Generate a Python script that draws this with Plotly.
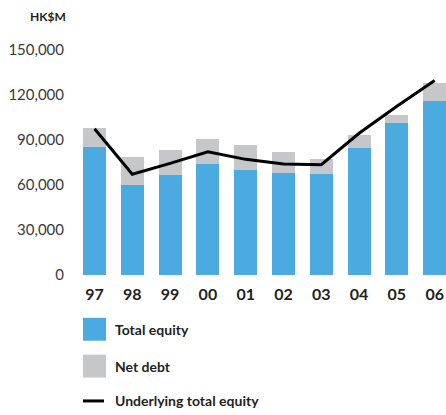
import plotly.graph_objects as go

years = ['97', '98', '99', '00', '01', '02', '03', '04', '05', '06']
total_equity = [85500, 60000, 66700, 74000, 70000, 68000, 67400, 84600, 101400, 115800]
net_debt = [12600, 18600, 16600, 16600, 16600, 14000, 10000, 8600, 5100, 11900]
underlying_equity = [97500, 67200, 74400, 82200, 77100, 74000, 73500, 94500, 112500, 129600]
y_ticks = [0, 30000, 60000, 90000, 120000, 150000]

BLUE = '#4baae0'
GREY = '#c6c7c9'
FONT = 'Lato'

fig = go.Figure()

fig.add_trace(go.Bar(x=list(range(len(years))), y=total_equity, name='Total equity',
                     marker_color=BLUE, marker_line_width=0))
fig.add_trace(go.Bar(x=list(range(len(years))), y=net_debt, name='Net debt',
                     marker_color=GREY, marker_line_width=0))
fig.add_trace(go.Scatter(x=list(range(len(years))), y=underlying_equity, name='Underlying total equity',
                         mode='lines', line=dict(color='black', width=3)))

fig.update_layout(
    width=446, height=415,
    margin=dict(l=76, r=0, t=49.5, b=139.5),
    barmode='stack',
    bargap=0.39,
    showlegend=False,
    plot_bgcolor='white',
    paper_bgcolor='white',
    font=dict(family=FONT),
)

fig.update_xaxes(
    range=[-0.49, 9.30],
    tickmode='array', tickvals=list(range(len(years))), ticktext=years,
    tickfont=dict(family=FONT, size=16, color='#231f20', weight='bold'),
    ticks='outside', ticklen=5, tickcolor='rgba(0,0,0,0)',
    showgrid=False, zeroline=False, showline=False,
)
fig.update_yaxes(
    range=[0, 150000],
    tickmode='array', tickvals=y_ticks,
    ticktext=[f'{v:,}' for v in y_ticks],
    tickfont=dict(family=FONT, size=15, color='#3a3a3a'),
    ticks='outside', ticklen=8, tickcolor='rgba(0,0,0,0)',
    showgrid=False, zeroline=False, showline=False,
)

fig.add_annotation(text='HK$M', xref='paper', yref='paper', x=-8 / 370, y=1 + 33.5 / 226,
                   xanchor='right', yanchor='middle', showarrow=False,
                   font=dict(family=FONT, size=12, color='#231f20', weight='bold'))

# legend drawn by hand so the swatches match the large squares
legend_items = [('Total equity', BLUE, 'box'), ('Net debt', GREY, 'box'),
                ('Underlying total equity', 'black', 'line')]
row_y = [330, 367, 402]
for (label, color, kind), yc in zip(legend_items, row_y):
    if kind == 'box':
        fig.add_shape(type='rect', xref='paper', yref='paper',
                      x0=(83 - 76) / 370, x1=(106 - 76) / 370,
                      y0=(275.5 - (yc + 11.5)) / 226, y1=(275.5 - (yc - 11.5)) / 226,
                      fillcolor=color, line_width=0)
    else:
        fig.add_shape(type='line', xref='paper', yref='paper',
                      x0=(83 - 76) / 370, x1=(104 - 76) / 370,
                      y0=(275.5 - yc) / 226, y1=(275.5 - yc) / 226,
                      line=dict(color=color, width=3))
    fig.add_annotation(text=label, xref='paper', yref='paper',
                       x=(113 - 76) / 370, y=(275.5 - yc) / 226,
                       xanchor='left', yanchor='middle', showarrow=False,
                       font=dict(family=FONT, size=14, color='#231f20', weight='bold'))

fig.write_html('out.html', config={'displayModeBar': False},
               post_script="document.body.style.margin='0';document.body.style.overflow='hidden';")
